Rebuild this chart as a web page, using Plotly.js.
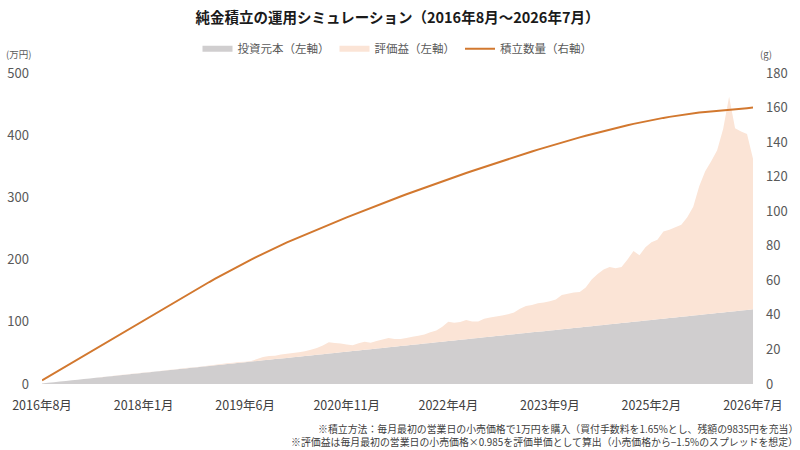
<!DOCTYPE html>
<html>
<head>
<meta charset="utf-8">
<script src="https://cdn.plot.ly/plotly-3.0.1.min.js"></script>
<style>
  html, body { margin: 0; padding: 0; background: #fff; }
  #chart { width: 800px; height: 450px; }
</style>
</head>
<body>
<div id="chart"></div>
<script>
// Monthly categories: 2016年8月 … 2026年7月 (120 months)
const months = [];
for (let i = 0; i < 120; i++) {
  const y = 2016 + Math.floor((7 + i) / 12);
  const m = ((7 + i) % 12) + 1;
  months.push(y + '年' + m + '月');
}

const tickLabels = ['2016年8月', '2018年1月', '2019年6月', '2020年11月',
                    '2022年4月', '2023年9月', '2025年2月', '2026年7月'];

// 投資元本（万円）
const principal = [
  1, 2, 3, 4, 5, 6, 7, 8, 9, 10, 11, 12, 13, 14, 15, 16, 17, 18, 19, 20,
  21, 22, 23, 24, 25, 26, 27, 28, 29, 30, 31, 32, 33, 34, 35, 36, 37, 38, 39, 40,
  41, 42, 43, 44, 45, 46, 47, 48, 49, 50, 51, 52, 53, 54, 55, 56, 57, 58, 59, 60,
  61, 62, 63, 64, 65, 66, 67, 68, 69, 70, 71, 72, 73, 74, 75, 76, 77, 78, 79, 80,
  81, 82, 83, 84, 85, 86, 87, 88, 89, 90, 91, 92, 93, 94, 95, 96, 97, 98, 99, 100,
  101, 102, 103, 104, 105, 106, 107, 108, 109, 110, 111, 112, 113, 114, 115, 116, 117, 118, 119, 120
];

// 評価益（万円）
const gain = [
  0, 0, 0, 0, 0, 0, 0, 0, 0, 0,
  0.1, 0.2, 0.3, 0.3, 0.2, 0.3, 0.4, 0.3, 0.2, 0.2,
  0.3, 0.4, 0.5, 0.6, 0.6, 0.5, 0.4, 0.5, 0.6, 0.8,
  1.0, 1.2, 1.0, 1.2, 0.6, 1.0, 3, 5.5, 6, 5.5,
  6.5, 6.5, 7, 7, 7.5, 9, 11, 14, 18, 16,
  14, 11.5, 9.5, 11.5, 13, 10.5, 12, 13.5, 15, 12.5,
  11.5, 12, 13, 13.5, 14.5, 17, 19, 24, 31, 28.5,
  28.5, 31, 27.5, 26.5, 30, 31, 31.5, 32, 33, 35,
  40, 43.5, 44, 46, 46, 47, 49, 55, 56, 57,
  57, 63, 75, 83, 89, 92, 89, 90, 101, 114,
  106, 118, 125, 128, 140, 142, 145, 148, 159, 175,
  207, 230, 245, 262, 295, 346, 294, 288, 283, 242
];

// 積立数量（g）
const grams = [
  2.10, 4.15, 6.20, 8.25, 10.30, 12.35, 14.40, 16.45, 18.50, 20.55,
  22.60, 24.65, 26.70, 28.75, 30.80, 32.85, 34.90, 36.95, 39.00, 41.05,
  43.10, 45.15, 47.18, 49.20, 51.20, 53.18, 55.15, 57.10, 59.03, 60.95,
  62.85, 64.73, 66.60, 68.45, 70.25, 72.02, 73.75, 75.45, 77.12, 78.75,
  80.35, 81.92, 83.45, 84.95, 86.42, 87.88, 89.33, 90.77, 92.19, 93.61,
  95.02, 96.41, 97.80, 99.17, 100.54, 101.89, 103.23, 104.57, 105.89, 107.20,
  108.50, 109.79, 111.07, 112.34, 113.60, 114.85, 116.09, 117.32, 118.54, 119.75,
  120.95, 122.14, 123.32, 124.49, 125.65, 126.80, 127.94, 129.07, 130.19, 131.30,
  132.40, 133.49, 134.57, 135.64, 136.70, 137.75, 138.78, 139.79, 140.79, 141.76,
  142.72, 143.66, 144.59, 145.49, 146.38, 147.25, 148.10, 148.94, 149.75, 150.55,
  151.33, 152.05, 152.74, 153.40, 154.02, 154.61, 155.17, 155.70, 156.19, 156.65,
  157.08, 157.48, 157.85, 158.18, 158.48, 158.77, 159.06, 159.36, 159.67, 159.99
];

const notes = [
  '※積立方法：毎月最初の営業日の小売価格で1万円を購入（買付手数料を1.65%とし、残額の9835円を充当）',
  '※評価益は毎月最初の営業日の小売価格×0.985を評価単価として算出（小売価格から−1.5%のスプレッドを想定）'
];

const FONT = '"Noto Sans CJK JP", "Noto Sans", sans-serif';
const TXT = '#595959';

const traces = [
  {
    type: 'scatter', x: months, y: principal, name: '投資元本（左軸）',
    stackgroup: 'val', mode: 'none', fillcolor: '#d0cecf',
    line: { width: 0 }, hoverinfo: 'skip'
  },
  {
    type: 'scatter', x: months, y: gain, name: '評価益（左軸）',
    stackgroup: 'val', mode: 'none', fillcolor: '#fbe4d6',
    line: { width: 0 }, hoverinfo: 'skip'
  },
  {
    type: 'scatter', x: months, y: grams, name: '積立数量（右軸）',
    yaxis: 'y2', mode: 'lines', line: { color: '#d2782f', width: 2 },
    hoverinfo: 'skip'
  }
];

// footnotes: one annotation per line, right-aligned under the plot
const noteAnnotations = notes.map((t, i) => ({
  text: t, xref: 'paper', yref: 'paper', x: 1.064, y: -0.1447 - i * 0.0434,
  xanchor: 'right', yanchor: 'middle', align: 'right', showarrow: false,
  borderpad: 0,
  font: { family: FONT, size: 9.9, color: '#404040' }
}));

const layout = {
  width: 800, height: 450, autosize: false,
  paper_bgcolor: '#fff', plot_bgcolor: '#fff',
  margin: { l: 42, r: 47, t: 73, b: 66, pad: 0 },
  font: { family: FONT, color: TXT, size: 13 },
  title: {
    text: '純金積立の運用シミュレーション（2016年8月～2026年7月）',
    x: 0.5, xref: 'paper', xanchor: 'center',
    y: 1 - 18 / 450, yref: 'container', yanchor: 'middle',
    font: { family: FONT, size: 14.5, color: '#1a1a1a', weight: 700 }
  },
  showlegend: true,
  legend: {
    orientation: 'h', x: 0.5, xanchor: 'center', y: 1.125, yanchor: 'top',
    font: { family: FONT, size: 11.5, color: TXT },
    itemwidth: 30, traceorder: 'normal', bgcolor: 'rgba(0,0,0,0)'
  },
  xaxis: {
    type: 'category', range: [0, 119],
    tickmode: 'array', tickvals: tickLabels, ticktext: tickLabels,
    showgrid: false, zeroline: false, showline: false, ticks: '',
    ticklabelstandoff: 12,
    tickfont: { family: FONT, size: 12.5, color: '#404040' },
    fixedrange: true
  },
  yaxis: {
    range: [0, 500], dtick: 100, tick0: 0,
    showgrid: false, zeroline: false, showline: false, ticks: '',
    ticklabelstandoff: 12,
    tickfont: { family: FONT, size: 13, color: TXT },
    fixedrange: true
  },
  yaxis2: {
    overlaying: 'y', side: 'right', range: [0, 180], dtick: 20, tick0: 0,
    showgrid: false, zeroline: false, showline: false, ticks: '',
    ticklabelstandoff: 12,
    tickfont: { family: FONT, size: 13, color: TXT },
    fixedrange: true
  },
  annotations: [
    {
      text: '(万円)', xref: 'paper', yref: 'paper', x: -0.054, y: 1.06,
      xanchor: 'left', yanchor: 'middle', showarrow: false,
      font: { family: FONT, size: 9.5, color: TXT }
    },
    {
      text: '(g)', xref: 'paper', yref: 'paper', x: 1.018, y: 1.06,
      xanchor: 'center', yanchor: 'middle', showarrow: false,
      font: { family: FONT, size: 9.5, color: TXT }
    }
  ].concat(noteAnnotations)
};

Plotly.newPlot('chart', traces, layout, { displayModeBar: false, staticPlot: true });
</script>
</body>
</html>
